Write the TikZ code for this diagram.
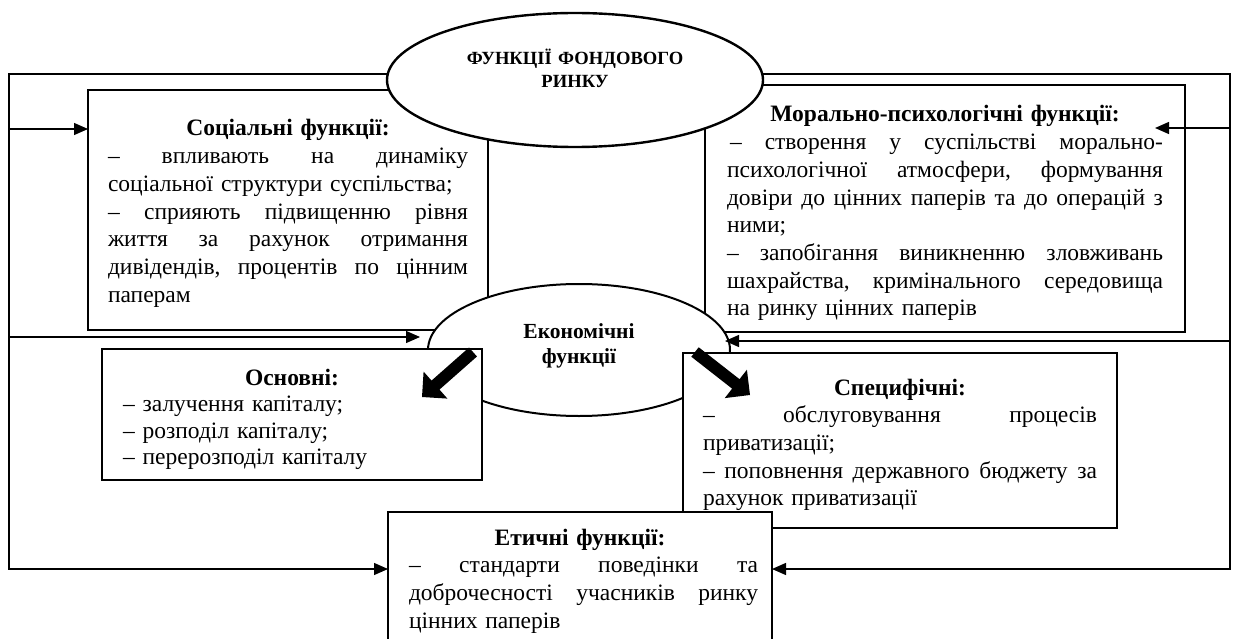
\documentclass[tikz,border=0pt]{standalone}
\usepackage{fontspec}
\setmainfont{Liberation Serif}
\usetikzlibrary{arrows.meta,shapes.geometric,calc}

% justified line: indent, width, text
\newcommand\jl[3]{{\frenchspacing\spaceskip=0.25em plus 1fil\relax
  \hbox to\hsize{\hskip#1\hbox to#2{#3}\hss}}\par}
\newcommand\jline[1]{\jl{0pt}{\hsize}{#1}}
\newcommand\lline[1]{\hbox to\hsize{#1\hss}\par}
\newcommand\tline[1]{\hbox to\hsize{\hss\bfseries #1\hss}\par}
\newcommand\fatarrow[2]{%
  \fill ($(#1)!6pt!90:(#2)$)
    -- ($($(#2)!18pt!(#1)$)!6pt!90:(#2)$)
    -- ($($(#2)!18pt!(#1)$)!18pt!90:(#2)$)
    -- (#2)
    -- ($($(#2)!18pt!(#1)$)!18pt!-90:(#2)$)
    -- ($($(#2)!18pt!(#1)$)!6pt!-90:(#2)$)
    -- ($(#1)!6pt!-90:(#2)$) -- cycle;}

\begin{document}
\begin{tikzpicture}[x=1pt,y=-1pt,
  box/.style={draw, fill=white, line width=2.8pt, anchor=north west, outer sep=0pt,
    inner ysep=0pt, font=\fontsize{23.5}{27.7}\selectfont},
  ell/.style={draw, fill=white, ellipse, inner sep=0pt, outer sep=0pt, align=center},
  frame/.style={line width=1.3pt},
  arr/.style={frame, -{Triangle[length=14pt,width=12pt]}}]
\useasboundingbox[fill=white] (0,0) rectangle (1236,639);

% upper boxes
\node[box, text width=360pt, inner xsep=20pt, text height=46pt, text depth=194pt] (soc) at (88,90)
 {\tline{Соціальні функції:}%
  \jline{– впливають на динаміку}%
  \lline{соціальної структури суспільства;}%
  \jline{– сприяють підвищенню рівня}%
  \jline{життя за рахунок отримання}%
  \jline{дивідендів, процентів по цінним}%
  \lline{паперам}};
\node[box, text width=436pt, inner xsep=22pt, text height=37pt, text depth=210pt] (mor) at (705,85)
 {\tline{Морально-психологічні функції:}%
  \jl{3pt}{433pt}{– створення у суспільстві морально-}%
  \jline{психологічної атмосфери, формування}%
  \jline{довіри до цінних паперів та до операцій з}%
  \lline{ними;}%
  \jline{– запобігання виникненню зловживань}%
  \jline{шахрайства, кримінального середовища}%
  \lline{на ринку цінних паперів}};

% ellipses
\node[ell, minimum width=376pt, minimum height=134pt, line width=2.4pt, text width=240pt,
  text height=12pt, text depth=42pt, font=\bfseries\fontsize{18.6}{23}\selectfont] (fr) at (575,80)
  {ФУНКЦІЇ ФОНДОВОГО\\РИНКУ};
\node[ell, minimum width=302pt, minimum height=132pt, line width=2pt, text width=150pt,
  text height=13pt, text depth=37pt, font=\bfseries\fontsize{21.5}{25}\selectfont] (eco) at (579,350)
  {Економічні\\функції};

% lower boxes
\node[box, line width=2.6pt, text width=338pt, inner xsep=21pt, text height=36pt, text depth=95pt,
  font=\fontsize{23.5}{26.5}\selectfont] (osn) at (102,349)
 {\tline{Основні:}%
  \lline{– залучення капіталу;}%
  \lline{– розподіл капіталу;}%
  \lline{– перерозподіл капіталу}};
\node[box, text width=394pt, inner xsep=20pt, text height=42pt, text depth=133pt] (spec) at (683,353)
 {\tline{Специфічні:}%
  \jline{– обслуговування процесів}%
  \lline{приватизації;}%
  \jline{– поповнення державного бюджету за}%
  \lline{рахунок приватизації}};
\node[box, line width=2.5pt, text width=356pt, inner xsep=14pt, text height=33pt, text depth=98pt] (eth) at (388,512)
 {\tline{Етичні функції:}%
  \jl{7pt}{349pt}{– стандарти поведінки та}%
  \jl{7pt}{349pt}{доброчесності учасників ринку}%
  \lline{\hskip7pt цінних паперів}};

% outer frame and arrows
\coordinate (tl) at (9,74);
\coordinate (bl) at (9,569);
\coordinate (tr) at (1230,74);
\coordinate (br) at (1230,569);
\coordinate (sa) at (9,129);
\coordinate (ea) at (9,337);
\coordinate (ma) at (1230,128);
\coordinate (eb) at (1230,341);
\coordinate (mtip) at (1155,128);
\coordinate (etipl) at (420,337);
\coordinate (etipr) at (725,341);

\draw[arr] (fr.west |- tl) -- (tl) -- (bl) -- (eth.west |- bl);
\draw[arr] (fr.east |- tr) -- (tr) -- (br) -- (eth.east |- br);
\draw[arr] (sa) -- (soc.west |- sa);
\draw[arr] (ea) -- (etipl);
\draw[arr] (ma) -- (mtip);
\draw[arr] (eb) -- (etipr);

% thick arrows
\coordinate (la0) at (473,352);
\coordinate (la1) at (422,397);
\coordinate (ra0) at (695,352);
\coordinate (ra1) at (750,395);
\fatarrow{la0}{la1}
\fatarrow{ra0}{ra1}
\end{tikzpicture}
\end{document}
